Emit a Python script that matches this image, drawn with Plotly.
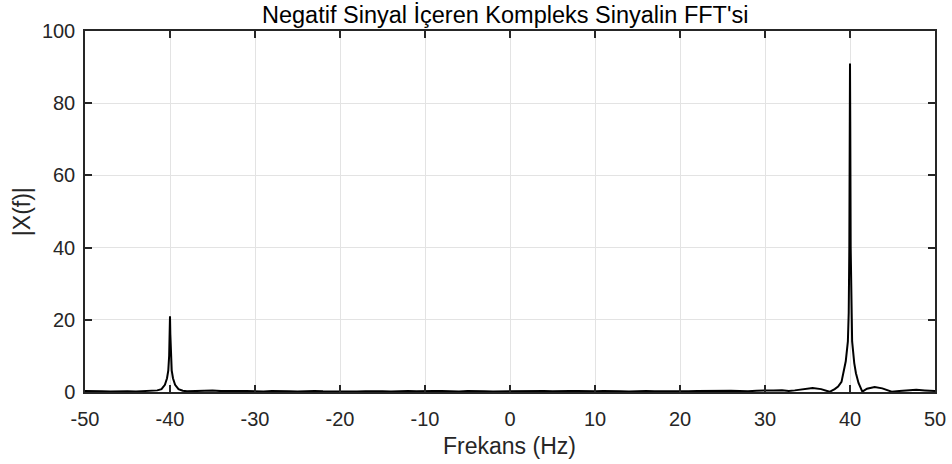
import plotly.graph_objects as go

# Spectrum magnitude |X(f)|, read segment by segment
# Low floor, -50 .. -41 Hz
freq_lo = [-50, -49, -48, -47, -46, -45, -44, -43, -42, -41.5]
mag_lo = [0.25, 0.3, 0.2, 0.15, 0.25, 0.2, 0.15, 0.25, 0.3, 0.45]

# Negative-frequency component around -40 Hz
freq_neg = [-41.0, -40.6, -40.35, -40.2, -40.1, -40.04, -40.0,
            -39.96, -39.9, -39.8, -39.65, -39.4, -39.0, -38.5]
mag_neg = [0.8, 2.0, 3.8, 6.0, 10.0, 16.0, 21.0,
           16.0, 10.0, 6.0, 3.8, 2.0, 0.8, 0.35]

# Floor between the two components
freq_mid = [-38, -37, -36, -35, -34, -33, -32, -31, -30, -29, -28, -27, -26,
            -25, -24, -23, -22, -21, -20, -19, -18, -17, -16, -15, -14, -13,
            -12, -11, -10, -9, -8, -7, -6, -5, -4, -3, -2, -1, 0, 1, 2, 3, 4,
            5, 6, 7, 8, 9, 10, 11, 12, 13, 14, 15, 16, 17, 18, 19, 20, 21, 22,
            23, 24, 25, 26, 27, 28, 29]
mag_mid = [0.2, 0.3, 0.45, 0.4, 0.25, 0.15, 0.25, 0.3, 0.2, 0.15, 0.25, 0.3,
           0.2, 0.15, 0.25, 0.3, 0.2, 0.15, 0.3, 0.25, 0.15, 0.2, 0.3, 0.2,
           0.15, 0.25, 0.3, 0.2, 0.15, 0.25, 0.3, 0.2, 0.15, 0.25, 0.3, 0.2,
           0.15, 0.2, 0.25, 0.2, 0.15, 0.25, 0.3, 0.2, 0.15, 0.25, 0.3, 0.2,
           0.2, 0.25, 0.3, 0.2, 0.15, 0.3, 0.25, 0.2, 0.15, 0.3, 0.25, 0.2,
           0.3, 0.35, 0.2, 0.25, 0.35, 0.3, 0.2, 0.35]

# Positive-frequency component around +40 Hz with its side lobes
freq_pos = [30, 31, 32, 32.8, 33.5, 34.5, 35.6, 36.6, 37.6, 38.2, 38.6, 39.0,
            39.2, 39.5, 39.75, 39.85, 39.92, 39.97, 40.0, 40.03, 40.08, 40.15,
            40.25, 40.5, 40.7, 41.0, 41.2, 41.45, 42.0, 42.9, 43.8, 44.9,
            45.8, 46.8, 47.8, 48.8, 50]
mag_pos = [0.3, 0.45, 0.5, 0.3, 0.45, 0.8, 1.1, 0.8, 0.05, 0.8, 1.5, 2.8,
           5.2, 8.5, 14.0, 22.0, 40.0, 75.0, 91.0, 75.0, 40.0, 22.0,
           14.0, 8.0, 5.2, 2.5, 1.2, 0.1, 0.9, 1.4, 1.0, 0.1,
           0.3, 0.5, 0.6, 0.45, 0.3]

x_ticks = list(range(-50, 51, 10))
x_tick_text = [str(v) for v in x_ticks]  # plain hyphen for negatives
y_ticks = list(range(0, 101, 20))
y_tick_text = [str(v) for v in y_ticks]

freq = freq_lo + freq_neg + freq_mid + freq_pos
mag = mag_lo + mag_neg + mag_mid + mag_pos

axis_col = "#262626"
grid_col = "#e3e3e3"
font_family = "Liberation Sans, Arial, sans-serif"

fig = go.Figure()
fig.add_trace(go.Scatter(
    x=freq, y=mag, mode="lines",
    line=dict(color="black", width=2),
    showlegend=False,
))

common_axis = dict(
    showline=True, linecolor=axis_col, linewidth=1.5, mirror="ticks",
    ticks="inside", ticklen=7, tickwidth=1.5, tickcolor=axis_col,
    showgrid=True, gridcolor=grid_col, gridwidth=1,
    zeroline=False, automargin=False,
    tickfont=dict(family=font_family, size=20, color=axis_col),
)

fig.update_layout(
    width=952, height=464,
    margin=dict(l=85, r=17, t=31, b=72),
    paper_bgcolor="white", plot_bgcolor="white",
    xaxis=dict(
        range=[-50, 50], tickvals=x_ticks, ticktext=x_tick_text,
        ticklabelstandoff=8,
        **common_axis,
    ),
    yaxis=dict(
        range=[0, 100], tickvals=y_ticks, ticktext=y_tick_text,
        ticklabelstandoff=4,
        **common_axis,
    ),
    annotations=[
        dict(text="Negatif Sinyal İçeren Kompleks Sinyalin FFT'si",
             xref="paper", yref="paper", x=0.4947, y=1.0457,
             xanchor="center", yanchor="middle", showarrow=False,
             font=dict(family=font_family, size=23.5, color="black")),
        dict(text="Frekans (Hz)",
             xref="paper", yref="paper", x=0.4997, y=-0.1496,
             xanchor="center", yanchor="middle", showarrow=False,
             font=dict(family=font_family, size=23, color=axis_col)),
        dict(text="|X(f)|", textangle=-90,
             xref="paper", yref="paper", x=-0.0745, y=0.5,
             xanchor="center", yanchor="middle", showarrow=False,
             font=dict(family=font_family, size=23, color=axis_col)),
    ],
)

fig.write_html("out.html")
